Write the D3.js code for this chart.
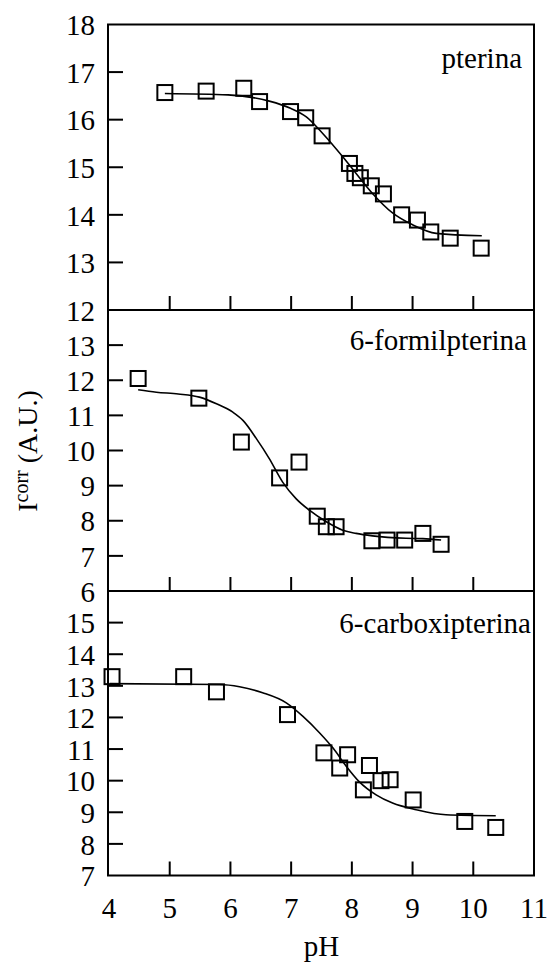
<!DOCTYPE html>
<html>
<head>
<meta charset="utf-8">
<script src="https://cdn.jsdelivr.net/npm/d3@7/dist/d3.min.js"></script>
<style>
  html, body { margin: 0; padding: 0; background: #fff; }
  svg { display: block; }
  text { font-family: "Liberation Serif", "Times New Roman", serif; fill: #000; }
</style>
</head>
<body>
<svg id="chart" width="549" height="964"></svg>
<script>
// ---------- data ----------
const panelNames = ["pterina", "6-formilpterina", "6-carboxipterina"];

// pterina
const pterinaPH = [4.92, 5.60, 6.22, 6.48, 6.99, 7.24, 7.51, 7.96, 8.05, 8.14, 8.32, 8.52, 8.82, 9.08, 9.30, 9.62, 10.13];
const pterinaI  = [16.57, 16.60, 16.66, 16.38, 16.17, 16.04, 15.66, 15.08, 14.87, 14.78, 14.61, 14.44, 14.00, 13.89, 13.64, 13.51, 13.30];
const pterinaFitPH = [4.92, 5.96, 6.64, 6.99, 7.25, 7.52, 7.85, 8.07, 8.34, 8.67, 9.00, 9.39, 10.14];
const pterinaFitI  = [16.55, 16.52, 16.39, 16.24, 16.06, 15.71, 15.22, 14.87, 14.45, 14.04, 13.79, 13.61, 13.56];

// 6-formilpterina
const formilPH = [4.48, 5.48, 6.18, 6.81, 7.13, 7.43, 7.58, 7.74, 8.33, 8.58, 8.87, 9.17, 9.47];
const formilI  = [12.05, 11.49, 10.24, 9.22, 9.67, 8.13, 7.83, 7.83, 7.43, 7.45, 7.45, 7.64, 7.33];
const formilFitPH = [4.48, 4.78, 5.14, 5.49, 5.77, 6.04, 6.21, 6.43, 6.64, 6.86, 7.08, 7.30, 7.58, 7.85, 8.07, 8.34, 8.89, 9.17, 9.47];
const formilFitI  = [11.73, 11.66, 11.61, 11.52, 11.33, 11.09, 10.85, 10.33, 9.77, 9.10, 8.63, 8.30, 7.97, 7.73, 7.64, 7.57, 7.50, 7.49, 7.45];

// 6-carboxipterina
const carboxiPH = [4.05, 5.23, 5.77, 6.94, 7.54, 7.80, 7.93, 8.29, 8.19, 8.48, 8.63, 9.01, 9.86, 10.37];
const carboxiI  = [13.29, 13.29, 12.81, 12.09, 10.88, 10.40, 10.82, 10.48, 9.71, 10.00, 10.03, 9.39, 8.71, 8.52];
const carboxiFitPH = [4.01, 5.82, 6.15, 6.53, 6.92, 7.19, 7.47, 7.69, 7.91, 8.12, 8.40, 8.67, 9.06, 9.55, 10.37];
const carboxiFitI  = [13.07, 13.04, 12.97, 12.78, 12.46, 12.04, 11.51, 11.03, 10.45, 9.97, 9.55, 9.29, 9.08, 8.92, 8.89];

// axes
const xDomain = [4, 11];
const xTicks = [4, 5, 6, 7, 8, 9, 10, 11];
const yDomains = [[12, 18], [6, 14], [7, 16]];
const yTickLabels = [[12, 13, 14, 15, 16, 17, 18], [6, 7, 8, 9, 10, 11, 12, 13], [7, 8, 9, 10, 11, 12, 13, 14, 15]];
const xAxisTitle = "pH";
const yAxisTitleMain = "I";
const yAxisTitleSup = "corr";
const yAxisTitleRest = " (A.U.)";

// ---------- drawing ----------
const svg = d3.select("#chart");
const left = 109, right = 534;
const bounds = [24.5, 310, 591, 875.5];
const x = d3.scaleLinear().domain(xDomain).range([left, right]);

const series = [
  { ph: pterinaPH, I: pterinaI, fph: pterinaFitPH, fI: pterinaFitI, labelX: 522, labelY: 68 },
  { ph: formilPH, I: formilI, fph: formilFitPH, fI: formilFitI, labelX: 527, labelY: 350 },
  { ph: carboxiPH, I: carboxiI, fph: carboxiFitPH, fI: carboxiFitI, labelX: 531, labelY: 633 }
];

const FS = 29;
const tickLen = 14;

series.forEach((s, i) => {
  const top = bounds[i], bottom = bounds[i + 1];
  const y = d3.scaleLinear().domain(yDomains[i]).range([bottom, top]);
  const g = svg.append("g");

  // fit line
  const fit = d3.zip(s.fph, s.fI);
  g.append("path")
    .datum(fit)
    .attr("fill", "none")
    .attr("stroke", "#000")
    .attr("stroke-width", 1.6)
    .attr("d", d3.line().x(d => x(d[0])).y(d => y(d[1])).curve(d3.curveMonotoneX));

  // markers
  const pts = d3.zip(s.ph, s.I);
  const ms = 15;
  g.selectAll("rect.pt").data(pts).enter().append("rect")
    .attr("class", "pt")
    .attr("x", d => x(d[0]) - ms / 2)
    .attr("y", d => y(d[1]) - ms / 2)
    .attr("width", ms).attr("height", ms)
    .attr("fill", "none").attr("stroke", "#000").attr("stroke-width", 2);

  // x ticks (inside, from bottom)
  const innerX = xTicks.filter(t => t > xDomain[0] && t < xDomain[1]);
  g.selectAll("line.xt").data(innerX).enter().append("line")
    .attr("x1", d => x(d)).attr("x2", d => x(d))
    .attr("y1", bottom).attr("y2", bottom - tickLen)
    .attr("stroke", "#000").attr("stroke-width", 2);

  // y ticks (inside, from left)
  const yd = yDomains[i];
  const innerY = yTickLabels[i].filter(t => t > yd[0] && t < yd[1]);
  g.selectAll("line.yt").data(innerY).enter().append("line")
    .attr("x1", left).attr("x2", left + tickLen)
    .attr("y1", d => y(d)).attr("y2", d => y(d))
    .attr("stroke", "#000").attr("stroke-width", 2);

  // y tick labels
  g.selectAll("text.yl").data(yTickLabels[i]).enter().append("text")
    .attr("x", 95).attr("y", d => y(d)).attr("dy", "0.37em")
    .attr("text-anchor", "end").style("font-size", FS + "px")
    .text(d => d);

  // frame
  g.append("rect")
    .attr("x", left - 1).attr("y", top).attr("width", right - left + 1).attr("height", bottom - top)
    .attr("fill", "none").attr("stroke", "#000").attr("stroke-width", 2);

  // panel label
  g.append("text")
    .attr("x", s.labelX).attr("y", s.labelY)
    .attr("text-anchor", "end").style("font-size", FS + "px")
    .text(panelNames[i]);
});

// x tick labels
svg.selectAll("text.xl").data(xTicks).enter().append("text")
  .attr("x", d => x(d)).attr("y", 918)
  .attr("text-anchor", "middle").style("font-size", FS + "px")
  .text(d => d);

// x axis title
svg.append("text")
  .attr("x", (left + right) / 2).attr("y", 956)
  .attr("text-anchor", "middle").style("font-size", FS + "px")
  .text(xAxisTitle);

// y axis title
const yt = svg.append("text")
  .attr("transform", "translate(37,451) rotate(-90)")
  .attr("text-anchor", "middle").style("font-size", "28px");
yt.append("tspan").text(yAxisTitleMain);
yt.append("tspan").attr("dy", -9).style("font-size", "20px").text(yAxisTitleSup);
yt.append("tspan").attr("dy", 9).text(yAxisTitleRest);
</script>
</body>
</html>
